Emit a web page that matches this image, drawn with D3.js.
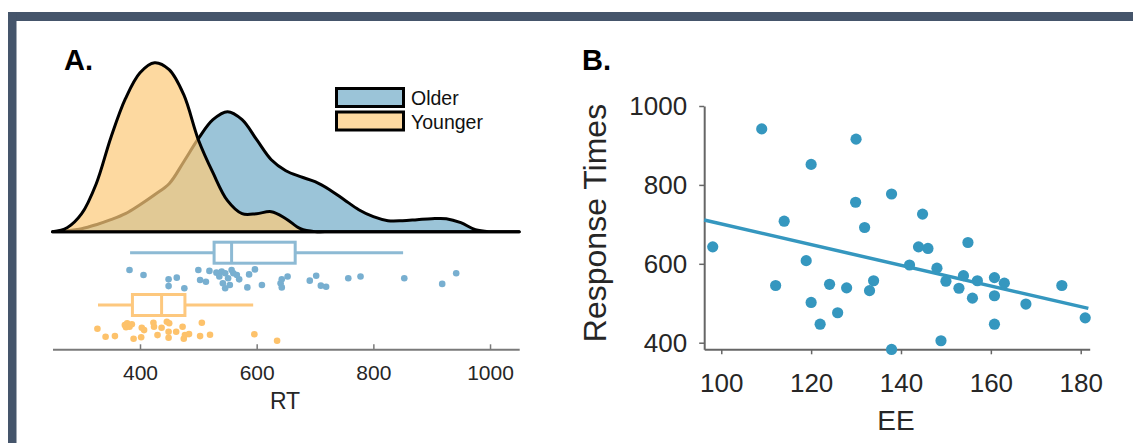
<!DOCTYPE html>
<html><head><meta charset="utf-8">
<script src="https://cdn.jsdelivr.net/npm/d3@7"></script>
<style>
html,body{margin:0;padding:0;background:#fff;}
svg{display:block;font-family:"Liberation Sans",Arial,Helvetica,sans-serif;}
</style></head><body>
<svg id="chart" width="1133" height="443"></svg>
<script>
// ---- Panel A: RT distributions by age group ----
const rtGrid = [250,275,300,325,350,375,400,425,450,475,500,525,550,575,600,625,650,675,700,725,750,775,800,825,850,875,900,925,950,975,1000,1025,1050];
// kernel density estimates (x10^-3 per ms)
const olderDensity = [0,0.05,0.15,0.35,0.6,0.9,1.35,1.85,2.4,3.5,4.65,5.6,6.0,5.6,4.6,3.6,3.05,2.75,2.5,2.1,1.6,1.1,0.75,0.55,0.55,0.6,0.65,0.65,0.45,0.1,0,0,0];
const youngerDensity = [0,0.2,0.9,2.4,4.7,6.65,7.95,8.45,8.1,6.85,4.6,2.95,1.55,0.9,0.9,1.0,0.65,0.15,0,0,0,0,0,0,0,0,0,0,0,0,0,0,0];
const groups = ["Older","Younger"];

// individual mean RTs with their vertical jitter (0..1 within the strip)
const olderRT = [382,406,449,463,449,476,500,519,503,513,531,540,536,546,557,560,551,566,570,542,546,554,584,587,597,609,643,641,643,653,691,702,710,719,757,778,853,918,942];
const olderJitter = [0.08,0.31,0.51,0.43,0.82,0.92,0.08,0.12,0.54,0.62,0.20,0.15,0.38,0.23,0.08,0.23,0.46,0.31,0.51,0.69,0.92,0.77,0.88,0.28,0.05,0.77,0.51,0.69,0.88,0.38,0.57,0.34,0.80,0.85,0.46,0.38,0.46,0.72,0.23];
const youngerRT = [327,341,357,374,378,382,376,386,389,402,403,407,423,424,430,437,446,450,449,449,462,473,475,477,484,503,506,520,596,635];
const youngerJitter = [0.35,0.75,0.72,0.17,0.08,0.25,0.28,0.13,0.85,0.78,0.30,0.42,0.05,0.25,0.67,0.30,0.0,0.08,0.5,0.8,0.5,0.25,0.85,0.67,0.62,0.72,0.05,0.65,0.63,0.95];

// box summaries: lower whisker, Q1, median, Q3, upper whisker
const olderBox = [383,527,557,666,851];
const youngerBox = [328,387,437,477,594];
const rtTicks = [400,600,800,1000];

// ---- Panel B: response times against EE ----
const eeValues = [98.1,109.0,114.0,112.1,118.9,120.0,120.0,122.0,124.1,125.9,127.9,129.9,130.0,131.9,133.0,133.9,137.9,137.9,141.9,143.9,144.8,146.0,148.0,148.9,150.0,152.9,153.9,154.9,155.9,157.0,160.8,160.8,160.8,163.0,167.8,175.8,181.0];
const respValues = [643,942,708,545,608,852,502,447,548,476,539,756,916,692,532,557,777,383,597,643,726,639,589,405,556,538,570,654,513,557,565,519,447,551,498,545,463];
const eeTicks = [100,120,140,160,180];
const respTicks = [400,600,800,1000];
const fitIntercept = 962.8;
const fitSlope = -2.618;

const svg = d3.select("#chart");

// frame
svg.append("rect").attr("x",8).attr("y",12).attr("width",1125).attr("height",9).attr("fill","#45556b");
svg.append("rect").attr("x",8).attr("y",12).attr("width",8.5).attr("height",431).attr("fill","#45556b");

const C = {
  olderFill:"#9bc4d8", youngerFill:"#fccb7b",
  olderBox:"#8dbad4", youngerBox:"#fdc87e",
  olderPt:"#78afd0", youngerPt:"#fdc26b",
  text:"#262626", axis:"#7a7a7a", scatter:"#3597bf"
};

// ---------- Panel A ----------
const xA = d3.scaleLinear().domain([250,1050]).range([52.5,519.2]);
const yD = d3.scaleLinear().domain([0,8.4]).range([231.7,63.7]);

const area = (vals) => d3.area()
  .x((d,i)=>xA(rtGrid[i]))
  .y0(yD(0))
  .y1((d)=>yD(d))
  .curve(d3.curveCatmullRom.alpha(0.5))(vals);

const gA = svg.append("g");
gA.append("path").attr("d", area(olderDensity))
  .attr("fill", C.olderFill).attr("stroke","#000").attr("stroke-width",3).attr("stroke-linejoin","round");
gA.append("path").attr("d", area(youngerDensity))
  .attr("fill", C.youngerFill).attr("fill-opacity",0.72)
  .attr("stroke","#000").attr("stroke-width",3).attr("stroke-linejoin","round");

// box plots
function boxplot(stats, cy, color){
  const h = 10.5;
  const g = gA.append("g").attr("stroke",color).attr("stroke-width",3).attr("fill","none");
  g.append("line").attr("x1",xA(stats[0])).attr("x2",xA(stats[1])).attr("y1",cy).attr("y2",cy);
  g.append("line").attr("x1",xA(stats[3])).attr("x2",xA(stats[4])).attr("y1",cy).attr("y2",cy);
  g.append("rect").attr("x",xA(stats[1])).attr("y",cy-h).attr("width",xA(stats[3])-xA(stats[1])).attr("height",2*h).attr("fill","#fff");
  g.append("line").attr("x1",xA(stats[2])).attr("x2",xA(stats[2])).attr("y1",cy-h).attr("y2",cy+h);
}
boxplot(olderBox, 252.7, C.olderBox);
boxplot(youngerBox, 305, C.youngerBox);

// jittered points
const jOlder = d3.scaleLinear().domain([0,1]).range([268.3,290]);
const jYounger = d3.scaleLinear().domain([0,1]).range([321.7,341.7]);
gA.append("g").selectAll("circle").data(olderRT).join("circle")
  .attr("cx",d=>xA(d)).attr("cy",(d,i)=>jOlder(olderJitter[i])).attr("r",3.3).attr("fill",C.olderPt);
gA.append("g").selectAll("circle").data(youngerRT).join("circle")
  .attr("cx",d=>xA(d)).attr("cy",(d,i)=>jYounger(youngerJitter[i])).attr("r",3.3).attr("fill",C.youngerPt);

// axis
const axA = svg.append("g").attr("transform","translate(0,349.3)")
  .call(d3.axisBottom(xA).tickValues(rtTicks).tickSizeInner(-5).tickSizeOuter(0).tickPadding(16).tickFormat(d3.format("d")));
axA.select(".domain").attr("stroke",C.axis).attr("stroke-width",2);
axA.selectAll(".tick line").attr("stroke",C.axis).attr("stroke-width",1.5);
axA.selectAll(".tick text").attr("fill",C.text).attr("font-size",21).attr("font-family","Liberation Sans, Arial, sans-serif");
svg.append("text").attr("x",285).attr("y",409).attr("text-anchor","middle")
  .attr("font-size",23).attr("fill",C.text).text("RT");

// legend
const legend = svg.append("g");
[C.olderFill, C.youngerFill].forEach((c,i)=>{
  const y0 = 88.5 + i*23.5;
  legend.append("rect").attr("x",336.5).attr("y",y0).attr("width",67).attr("height",18)
    .attr("fill",c).attr("fill-opacity", i===1?0.72:1).attr("stroke","#000").attr("stroke-width",3);
  legend.append("text").attr("x",411).attr("y",y0+16.5).attr("font-size",19.5).attr("fill","#111").text(groups[i]);
});

svg.append("text").attr("x",64).attr("y",70).attr("font-size",29).attr("font-weight","bold").attr("fill","#000").text("A.");
svg.append("text").attr("x",582).attr("y",70).attr("font-size",29).attr("font-weight","bold").attr("fill","#000").text("B.");

// ---------- Panel B ----------
const xB = d3.scaleLinear().domain([96.2,182]).range([704.2,1089.7]);
const yB = d3.scaleLinear().domain([383.3,1000]).range([349.3,106]);

const axBx = svg.append("g").attr("transform","translate(0,349.3)")
  .call(d3.axisBottom(xB).tickValues(eeTicks).tickSizeInner(5).tickSizeOuter(0).tickPadding(19).tickFormat(d3.format("d")));
const axBy = svg.append("g").attr("transform","translate(704.2,0)")
  .call(d3.axisLeft(yB).tickValues(respTicks).tickSizeInner(5).tickSizeOuter(0).tickPadding(12).tickFormat(d3.format("d")));
[axBx, axBy].forEach(a=>{
  a.select(".domain").attr("stroke","#666").attr("stroke-width",2);
  a.selectAll(".tick line").attr("stroke","#666").attr("stroke-width",1.5);
  a.selectAll(".tick text").attr("fill",C.text).attr("font-size",26).attr("font-family","Liberation Sans, Arial, sans-serif");
});

const fitDomain = xB.domain();
svg.append("line")
  .attr("x1",xB(fitDomain[0])).attr("y1",yB(fitIntercept+fitSlope*fitDomain[0]))
  .attr("x2",xB(181.7)).attr("y2",yB(fitIntercept+fitSlope*181.7))
  .attr("stroke",C.scatter).attr("stroke-width",3.5);

svg.append("g").selectAll("circle").data(eeValues).join("circle")
  .attr("cx",d=>xB(d)).attr("cy",(d,i)=>yB(respValues[i])).attr("r",5.6).attr("fill",C.scatter);

svg.append("text").attr("x",896).attr("y",430).attr("text-anchor","middle")
  .attr("font-size",28).attr("fill",C.text).text("EE");
svg.append("text").attr("transform","translate(606,223) rotate(-90)").attr("text-anchor","middle")
  .attr("font-size",32).attr("fill",C.text).text("Response Times");
</script>
</body></html>
